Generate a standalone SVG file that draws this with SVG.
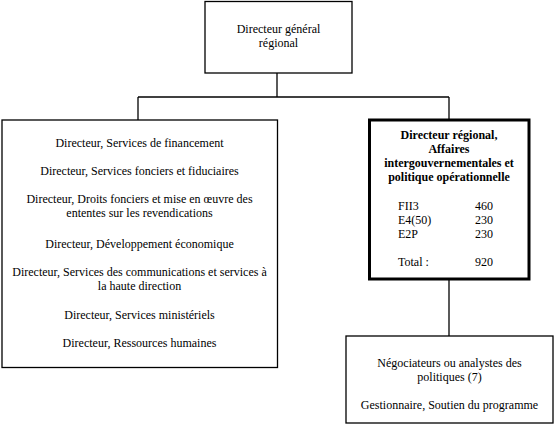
<svg xmlns="http://www.w3.org/2000/svg" width="556" height="436" viewBox="0 0 556 436">
<style>
.box{fill:#fff;stroke:#000;stroke-width:1.3}
.thick{fill:#fff;stroke:#000;stroke-width:3}
.conn line{stroke:#000;stroke-width:1.3}
text{font-family:"Liberation Serif","Times New Roman",serif;font-size:12px;fill:#000}
.c{text-anchor:middle}
.b{font-weight:bold}
</style>
<rect width="556" height="436" fill="#fff"/>
<g id="connectors" class="conn">
<line x1="277" y1="73" x2="277" y2="97"/>
<line x1="138" y1="97" x2="449" y2="97"/>
<line x1="138" y1="97" x2="138" y2="120"/>
<line x1="449" y1="97" x2="449" y2="120"/>
<line x1="449" y1="280" x2="449" y2="336"/>
</g>
<g id="dg">
<rect class="box" x="205" y="1.5" width="147" height="71.5"/>
<text class="c" x="278.5" y="33">Directeur général</text>
<text class="c" x="278.5" y="47">régional</text>
</g>
<g id="directeurs">
<rect class="box" x="2" y="120" width="275.5" height="247.5"/>
<text class="c" x="139.5" y="147">Directeur, Services de financement</text>
<text class="c" x="139.5" y="175">Directeur, Services fonciers et fiduciaires</text>
<text class="c" x="139.5" y="203">Directeur, Droits fonciers et mise en œuvre des</text>
<text class="c" x="139.5" y="217">ententes sur les revendications</text>
<text class="c" x="139.5" y="248">Directeur, Développement économique</text>
<text class="c" x="139.5" y="276">Directeur, Services des communications et services à</text>
<text class="c" x="139.5" y="290">la haute direction</text>
<text class="c" x="139.5" y="319">Directeur, Services ministériels</text>
<text class="c" x="139.5" y="347">Directeur, Ressources humaines</text>
</g>
<g id="dr">
<rect class="thick" x="369.5" y="120" width="159.5" height="159"/>
<text class="c b" x="449" y="139">Directeur régional,</text>
<text class="c b" x="449" y="153">Affaires</text>
<text class="c b" x="449" y="167">intergouvernementales et</text>
<text class="c b" x="449" y="181">politique opérationnelle</text>
<text x="398" y="210">FII3</text><text x="475" y="210">460</text>
<text x="398" y="224">E4(50)</text><text x="475" y="224">230</text>
<text x="398" y="238">E2P</text><text x="475" y="238">230</text>
<text x="398" y="266">Total :</text><text x="475" y="266">920</text>
</g>
<g id="negociateurs">
<rect class="box" x="346" y="336" width="207" height="87"/>
<text class="c" x="449.5" y="367">Négociateurs ou analystes des</text>
<text class="c" x="449.5" y="381">politiques (7)</text>
<text class="c" x="449.5" y="409">Gestionnaire, Soutien du programme</text>
</g>
</svg>
